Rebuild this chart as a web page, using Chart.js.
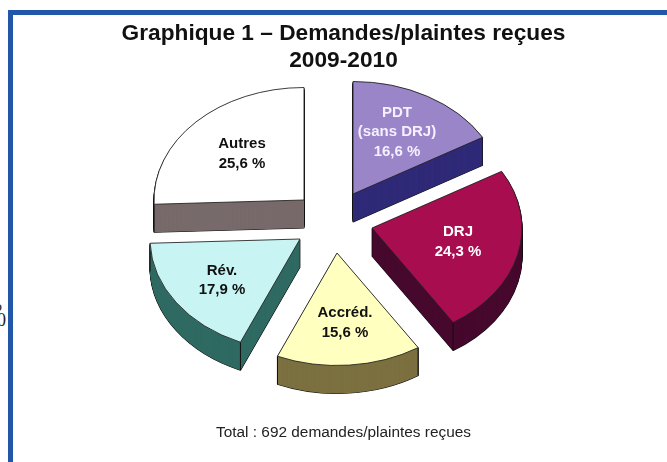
<!DOCTYPE html>
<html>
<head>
<meta charset="utf-8">
<style>
  html, body { margin: 0; padding: 0; background: #fff; overflow: hidden; }
  #page { position: absolute; left: 0; top: 0; width: 667px; height: 462px; overflow: hidden; }
  #frame { position: absolute; left: 8px; top: 10px; width: 700px; height: 500px;
           border-left: 5px solid #2157a8; border-top: 5px solid #2157a8; background: #fff; }
  .stray { position: absolute; font: 18px/18px "Liberation Serif", serif; color: #222; }
  canvas { position: absolute; left: 0; top: 0; }
</style>
</head>
<body>
<div id="page">
  <div class="stray" style="left:-13px;top:296px">%</div>
  <div class="stray" style="left:-3px;top:311px">0</div>
  <div id="frame"></div>
  <canvas id="chart" width="667" height="462"></canvas>
</div>
<script src="https://cdn.jsdelivr.net/npm/chart.js@4/dist/chart.umd.js"></script>
<script>
const categories = ['PDT', 'DRJ', 'Accréd.', 'Rév.', 'Autres'];
const shares = [16.6, 24.3, 15.6, 17.9, 25.6];
const shareLabels = [
  ['PDT', '(sans DRJ)', '16,6 %'],
  ['DRJ', '24,3 %'],
  ['Accréd.', '15,6 %'],
  ['Rév.', '17,9 %'],
  ['Autres', '25,6 %']
];
const titleLines = ['Graphique 1 – Demandes/plaintes reçues', '2009-2010'];
const footerText = 'Total : 692 demandes/plaintes reçues';

const topColors = ['#9a85c9', '#a80d50', '#ffffc0', '#c8f4f4', '#ffffff'];
const sideColors = ['#2f2a78', '#47082e', '#7c7040', '#2f6a62', '#786a6a'];
const labelColors = ['#f4f0ff', '#fff', '#111', '#111', '#111'];

// how far each slice is pulled out of the pie, in screen pixels
const sliceShift = [[9.5, -28], [28.5, 6], [-6.5, 31], [-43.5, 17], [-39.5, -22]];
// centre of each text block
const labelAnchor = [[397, 132], [458, 242], [345, 323], [222, 280.5], [242, 154]];
const TILT = 0.75;
const DEPTH = 28;

const tiltedPie = {
  id: 'tiltedPie',
  beforeDatasetDraw(chart, args) {
    const ctx = chart.ctx;
    const arcs = args.meta.data;

    const drawArc = (arc, i, dy, fill, stroke, width) => {
      const saved = arc.options;
      arc.options = Object.assign({}, saved, {
        backgroundColor: fill, borderColor: stroke, borderWidth: width, offset: 0
      });
      ctx.save();
      ctx.translate(arc.x + sliceShift[i][0], arc.y + sliceShift[i][1] + dy);
      ctx.scale(1, TILT);
      ctx.translate(-arc.x, -arc.y);
      arc.draw(ctx);
      ctx.restore();
      arc.options = saved;
    };

    arcs.forEach((arc, i) => {
      // outline of the side first, the fills then cover everything but the silhouette
      for (let d = DEPTH; d >= 1; d--) drawArc(arc, i, d, '#111', '#111', 1.2);
      for (let d = DEPTH; d >= 1; d--) drawArc(arc, i, d, sideColors[i], sideColors[i], 0);

      // corner edges of the side, only where the rim faces the viewer
      [arc.startAngle, arc.endAngle].forEach(a => {
        if (Math.sin(a) <= 0) return;
        const x = arc.x + sliceShift[i][0] + Math.cos(a) * arc.outerRadius;
        const y = arc.y + sliceShift[i][1] + Math.sin(a) * arc.outerRadius * TILT;
        ctx.save();
        ctx.strokeStyle = '#111';
        ctx.lineWidth = 1;
        ctx.beginPath();
        ctx.moveTo(x, y);
        ctx.lineTo(x, y + DEPTH);
        ctx.stroke();
        ctx.restore();
      });

      drawArc(arc, i, 0, topColors[i], '#222', 1);
    });

    ctx.save();
    ctx.font = 'bold 15px "Liberation Sans", Arial, sans-serif';
    ctx.textAlign = 'center';
    ctx.textBaseline = 'middle';
    shareLabels.forEach((lines, i) => {
      ctx.fillStyle = labelColors[i];
      lines.forEach((line, k) => {
        const y = labelAnchor[i][1] + (k - (lines.length - 1) / 2) * 19.5;
        ctx.fillText(line, labelAnchor[i][0], y);
      });
    });
    ctx.restore();
    return false;
  }
};

new Chart(document.getElementById('chart'), {
  type: 'pie',
  data: {
    labels: categories,
    datasets: [{ data: shares, backgroundColor: topColors }]
  },
  options: {
    responsive: false,
    animation: false,
    radius: 150,
    layout: { padding: { left: 20 } },
    plugins: {
      legend: { display: false },
      tooltip: { enabled: false },
      title: {
        display: true,
        text: titleLines,
        color: '#111',
        font: { family: '"Liberation Sans", Arial, sans-serif', size: 22.7, weight: 'bold', lineHeight: 1.2 },
        padding: { top: 20, bottom: 0 }
      },
      subtitle: {
        display: true,
        position: 'bottom',
        text: footerText,
        color: '#222',
        font: { family: '"Liberation Sans", Arial, sans-serif', size: 15.4 },
        padding: { top: 54, bottom: 20 }
      }
    }
  },
  plugins: [tiltedPie]
});
</script>
</body>
</html>
